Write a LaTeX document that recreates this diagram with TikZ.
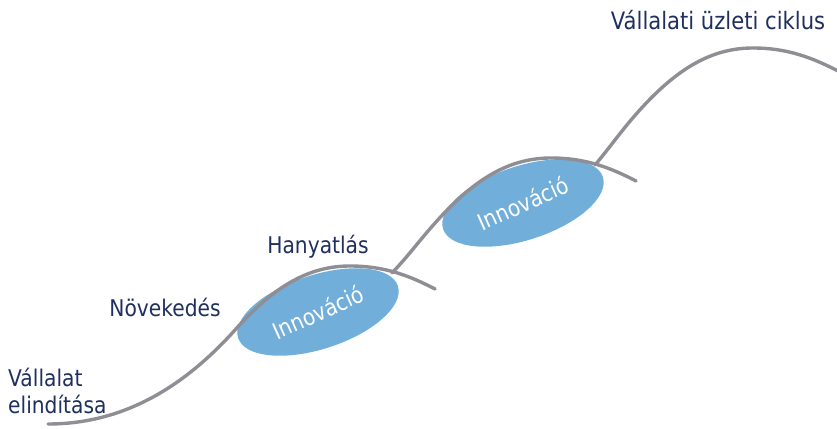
\documentclass[tikz,border=0pt]{standalone}
\usepackage{fontspec}
\setmainfont{DejaVu Sans}[FakeStretch=0.88]
\definecolor{curvegray}{HTML}{8E8E94}
\definecolor{innoblue}{HTML}{72AEDA}
\definecolor{navy}{HTML}{1F2F5E}
\tikzset{
  lifecurve/.style={draw=curvegray, line width=3.4pt, line cap=round},
  innoellipse/.style={fill=innoblue, draw=none},
  innotext/.style={text=white, font=\fontsize{23}{26}\selectfont, rotate=24},
  lbl/.style={text=navy, font=\fontsize{23}{26}\selectfont, inner sep=0pt},
}
\begin{document}
\begin{tikzpicture}[x=1pt,y=1pt]
\useasboundingbox (0,0) rectangle (837,428);
% ellipses
\fill[innoellipse, rotate around={18:(318,116)}] (318,116) ellipse [x radius=84, y radius=37];
\fill[innoellipse, rotate around={18:(523,225)}] (523,225) ellipse [x radius=84, y radius=37];
% curve A
\draw[lifecurve] (48,4) .. controls (130,4) and (190,48) .. (235,98)
  .. controls (275,143) and (310,162) .. (350,162)
  .. controls (385,162) and (410,152) .. (435,139);
% curve B
\draw[lifecurve] (392,155) .. controls (410,174) and (418,186) .. (436,206)
  .. controls (476,251) and (511,270) .. (551,270)
  .. controls (586,270) and (611,260) .. (636,247);
% curve C
\begin{scope}
  \clip (0,0) rectangle (837,428);
  \draw[lifecurve] (595,263) .. controls (611,282) and (621,297) .. (638,316)
    .. controls (678,361) and (713,380) .. (753,380)
    .. controls (788,380) and (813,370) .. (840,356);
\end{scope}
% texts
\node[innotext] (inno1) at (318,116) {Innováció};
\node[innotext] (inno2) at (523,225) {Innováció};
\node[lbl, font=\fontsize{24}{28}\selectfont] (title) at (718,408) {Vállalati üzleti ciklus};
\node[lbl] (decline) at (318,181) {Hanyatlás};
\node[lbl] (growth) at (165,121) {Növekedés};
\node[lbl, anchor=west] (start1) at (8,51) {Vállalat};
\node[lbl, anchor=west] (start2) at (8,24) {elindítása};
\end{tikzpicture}
\end{document}
